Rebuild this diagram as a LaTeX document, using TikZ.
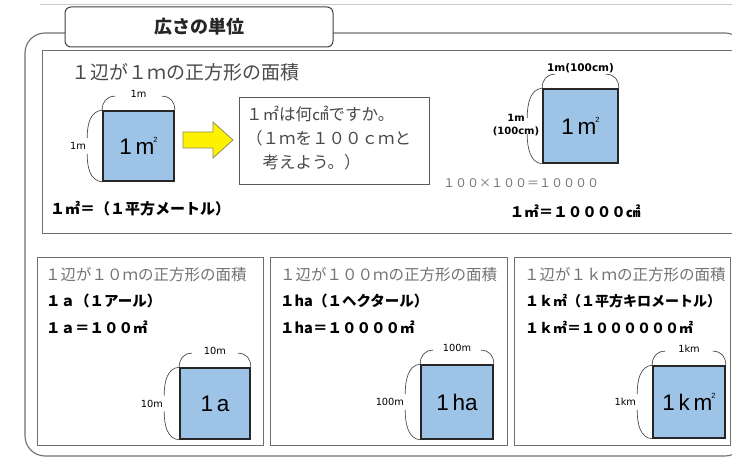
\documentclass[tikz,border=0pt]{standalone}
\usepackage{fontspec}
\setmainfont{Liberation Sans}
\newfontfamily\jp{Noto Sans CJK JP}
\newfontfamily\dv{DejaVu Sans}
\usetikzlibrary{calc}
\definecolor{sqblue}{HTML}{9DC3E6}
\definecolor{frameg}{HTML}{6E6E6E}
\definecolor{txtg}{HTML}{4A4A4A}
\definecolor{arrline}{HTML}{8C8C60}
\tikzset{
 frame/.style={draw=frameg, line width=1.1pt},
 panel/.style={draw=frameg, line width=0.9pt, fill=white},
 sq/.style={draw=black!85, line width=1.6pt, fill=sqblue, inner sep=0pt, font=\fontsize{22.5}{22}\selectfont},
 br/.style={draw=black!70, line width=0.7pt},
 lbl/.style={font=\dv\fontsize{9.8}{11}\selectfont, inner sep=1pt},
 blbl/.style={font=\dv\bfseries\fontsize{10.5}{12}\selectfont, inner sep=1pt, align=center},
 head/.style={font=\jp\fontsize{19}{20}\selectfont, text=txtg, anchor=west, inner sep=0pt},
 sub/.style={font=\jp\fontsize{15.5}{16}\selectfont, text=black!55, anchor=west, inner sep=0pt},
 bld/.style={font=\jp\bfseries\fontsize{14.5}{16}\selectfont, anchor=west, inner sep=0pt},
}
\newcommand\dimbrk[1]{%
 \draw[br] (#1.north west) .. controls ($(#1.north west)+(0,-8)$) and ($(#1.north west)+(4,-14)$) .. ($(#1.north west)+(13,-14)$);
 \draw[br] (#1.north east) .. controls ($(#1.north east)+(0,-8)$) and ($(#1.north east)+(-4,-14)$) .. ($(#1.north east)+(-13,-14)$);
 \draw[br] (#1.north west) .. controls ($(#1.north west)+(-12,1)$) and ($(#1.west)+(-15,-22)$) .. ($(#1.west)+(-15,-8)$);
 \draw[br] (#1.south west) .. controls ($(#1.south west)+(-12,-1)$) and ($(#1.west)+(-15,22)$) .. ($(#1.west)+(-15,8)$);
}
\newcommand\sqtwo{\kern-1pt\raisebox{12pt}{\fontsize{7.5}{7}\selectfont 2}}
\begin{document}
\begin{tikzpicture}[x=1pt,y=-1pt]
\useasboundingbox (0,0) rectangle (732,457);
% top hairline
\draw[black!20, line width=0.8pt] (40,4) -- (732,4);
% outer frame
\draw[frame, rounded corners=20pt] (25,33) rectangle (745,456);
% title
\node[draw=black!75, line width=1pt, fill=white, rounded corners=6pt, minimum width=268pt, minimum height=40pt, font=\jp\bfseries\fontsize{18}{20}\selectfont, text=black!85] (title) at (199,27) {広さの単位};
% top panel
\node[panel, anchor=north west, minimum width=703pt, minimum height=183pt] (ptop) at (42,50) {};
\node[head] (h1) at (71,72) {１辺が１ｍの正方形の面積};
% square A
\node[sq, minimum width=71pt, minimum height=70pt] (sqA) at (138.5,146) {1\,m\sqtwo};
\dimbrk{sqA}
\node[lbl] (sqAt) at ($(sqA.north)+(0,-16)$) {1m};
\node[lbl, anchor=east] (sqAl) at ($(sqA.west)+(-15,0)$) {1m};
% arrow
\draw[fill=yellow, draw=arrline, line width=0.8pt] (183,132) -- (213,132) -- (213,122) -- (233,140) -- (213,158) -- (213,148) -- (183,148) -- cycle;
% question box
\node[draw=black!65, line width=0.9pt, anchor=north west, minimum width=190pt, minimum height=87pt] (q) at (239,97) {};
\node[anchor=north west, align=left, inner sep=0pt, font=\jp\fontsize{16.5}{24}\selectfont, text=txtg] (qt) at (246,106) {１㎡は何㎠ですか。\\（１ｍを１００ｃｍと\\　考えよう。）};
\node[bld, font=\jp\bfseries\fontsize{15}{16}\selectfont] (b1) at (50,209) {１㎡＝（１平方メートル）};
% square B
\node[sq, minimum width=75pt, minimum height=74pt] (sqB) at (580.5,126) {1\,m\sqtwo};
\dimbrk{sqB}
\node[blbl] (sqBt) at ($(sqB.north)+(0,-20)$) {1m(100cm)};
\node[blbl, font=\dv\bfseries\fontsize{10}{13}\selectfont] (sqBl) at (516,125) {1m\\(100cm)};
\node[anchor=west, inner sep=0pt, font=\jp\fontsize{12}{13}\selectfont, text=black!55] (calc) at (443,183) {１００×１００＝１００００};
\node[inner sep=0pt, font=\jp\bfseries\fontsize{14.5}{16}\selectfont] (b2) at (575,211) {１㎡＝１００００㎠};
% bottom panels
\node[panel, anchor=north west, minimum width=226pt, minimum height=188pt] (p1) at (37,257) {};
\node[panel, anchor=north west, minimum width=237pt, minimum height=188pt] (p2) at (270,257) {};
\node[panel, anchor=north west, minimum width=216pt, minimum height=188pt] (p3) at (514,257) {};
% panel 1
\node[sub] (t1) at (45,275) {１辺が１０ｍの正方形の面積};
\node[bld] (t1a) at (46,301) {１ａ（１アール）};
\node[bld] (t1b) at (46,327) {１ａ＝１００㎡};
\node[sq, minimum width=70pt, minimum height=71pt] (sq1) at (215,403.5) {1\,a};
\dimbrk{sq1}
\node[lbl] (sq1t) at ($(sq1.north)+(0,-16)$) {10m};
\node[lbl, anchor=east] (sq1l) at ($(sq1.west)+(-15,0)$) {10m};
% panel 2
\node[sub] (t2) at (280,275) {１辺が１００ｍの正方形の面積};
\node[bld] (t2a) at (280,301) {１ha（１ヘクタール）};
\node[bld] (t2b) at (280,327) {１ha＝１００００㎡};
\node[sq, minimum width=72pt, minimum height=74pt] (sq2) at (457,402) {1\,ha};
\dimbrk{sq2}
\node[lbl] (sq2t) at ($(sq2.north)+(0,-16)$) {100m};
\node[lbl, anchor=east] (sq2l) at ($(sq2.west)+(-15,0)$) {100m};
% panel 3
\node[sub] (t3) at (524,275) {１辺が１ｋｍの正方形の面積};
\node[bld, font=\jp\bfseries\fontsize{14}{16}\selectfont] (t3a) at (525,301) {１ｋ㎡（１平方キロメートル）};
\node[bld, font=\jp\bfseries\fontsize{14}{16}\selectfont] (t3b) at (525,327) {１ｋ㎡＝１００００００㎡};
\node[sq, minimum width=72pt, minimum height=72pt] (sq3) at (689,402) {1\,k\,m\sqtwo};
\dimbrk{sq3}
\node[lbl] (sq3t) at ($(sq3.north)+(0,-16)$) {1km};
\node[lbl, anchor=east] (sq3l) at ($(sq3.west)+(-15,0)$) {1km};
\end{tikzpicture}
\end{document}
